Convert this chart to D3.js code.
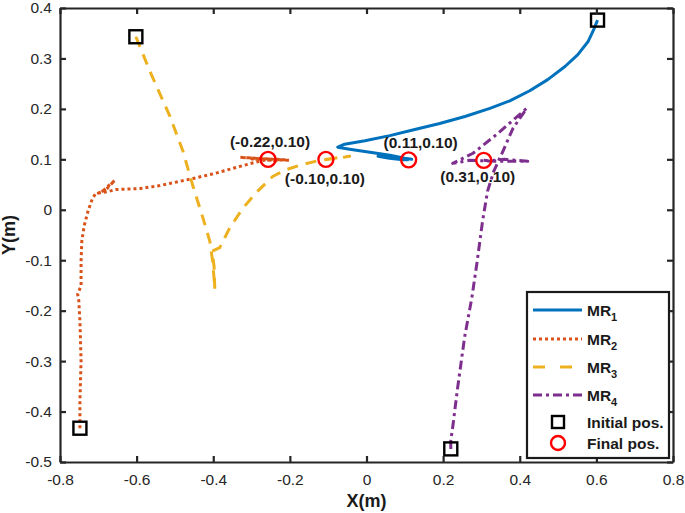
<!DOCTYPE html>
<html>
<head>
<meta charset="utf-8">
<script src="https://cdn.jsdelivr.net/npm/d3@7"></script>
<style>
  html, body { margin: 0; padding: 0; background: #fff; }
  svg { display: block; font-family: "Liberation Sans", Arial, sans-serif; }
</style>
</head>
<body>
<svg id="chart" width="685" height="513"></svg>
<script>
// ---------------- DATA ----------------
const xTicks = [-0.8, -0.6, -0.4, -0.2, 0, 0.2, 0.4, 0.6, 0.8];
const yTicks = [-0.5, -0.4, -0.3, -0.2, -0.1, 0, 0.1, 0.2, 0.3, 0.4];
const xTickLabels = ["-0.8", "-0.6", "-0.4", "-0.2", "0", "0.2", "0.4", "0.6", "0.8"];
const yTickLabels = ["-0.5", "-0.4", "-0.3", "-0.2", "-0.1", "0", "0.1", "0.2", "0.3", "0.4"];

const seriesNames = ["MR1", "MR2", "MR3", "MR4"];

const mr1X = [0.603, 0.593, 0.578, 0.551, 0.518, 0.473, 0.426, 0.374, 0.322, 0.257, 0.191, 0.126, 0.061, -0.004, -0.057, -0.075, -0.044, 0.009, 0.061, 0.100, 0.118, 0.074, 0.030, 0.060, 0.095, 0.110];
const mr1Y = [0.376, 0.357, 0.333, 0.307, 0.284, 0.258, 0.236, 0.216, 0.201, 0.185, 0.171, 0.159, 0.147, 0.137, 0.130, 0.124, 0.120, 0.114, 0.108, 0.102, 0.100, 0.104, 0.106, 0.102, 0.099, 0.099];

const mr2X = [-0.748, -0.748, -0.745, -0.748, -0.751, -0.754, -0.745, -0.745, -0.743, -0.737, -0.727, -0.716, -0.708, -0.690, -0.670, -0.657, -0.680, -0.700, -0.675, -0.655, -0.591, -0.539, -0.453, -0.396, -0.330, -0.291, -0.257, -0.200, -0.330, -0.210, -0.300, -0.230, -0.257];
const mr2Y = [-0.433, -0.378, -0.299, -0.220, -0.180, -0.167, -0.151, -0.102, -0.062, -0.032, -0.003, 0.021, 0.031, 0.036, 0.050, 0.058, 0.040, 0.033, 0.036, 0.040, 0.042, 0.048, 0.062, 0.072, 0.086, 0.094, 0.100, 0.098, 0.104, 0.099, 0.101, 0.097, 0.099];

const mr3X = [-0.602, -0.565, -0.513, -0.479, -0.453, -0.427, -0.409, -0.401, -0.396, -0.398, -0.403, -0.383, -0.357, -0.323, -0.284, -0.245, -0.208, -0.166, -0.122, -0.077, -0.044, -0.106];
const mr3Y = [0.343, 0.274, 0.185, 0.116, 0.047, -0.016, -0.062, -0.105, -0.157, -0.111, -0.082, -0.075, -0.036, 0.003, 0.037, 0.066, 0.080, 0.090, 0.098, 0.102, 0.106, 0.100];

const mr4X = [0.220, 0.220, 0.225, 0.238, 0.256, 0.275, 0.288, 0.303, 0.316, 0.332, 0.356, 0.382, 0.418, 0.339, 0.278, 0.225, 0.270, 0.348, 0.421, 0.361, 0.320, 0.306];
const mr4Y = [-0.474, -0.457, -0.431, -0.352, -0.253, -0.174, -0.107, -0.022, 0.037, 0.076, 0.116, 0.161, 0.201, 0.149, 0.112, 0.092, 0.098, 0.096, 0.096, 0.100, 0.097, 0.098];

const initX = [0.603, -0.748, -0.602, 0.220];
const initY = [0.376, -0.433, 0.343, -0.474];
const finalX = [0.110, -0.257, -0.106, 0.306];
const finalY = [0.099, 0.100, 0.100, 0.098];
const finalLabels = ["(0.11,0.10)", "(-0.22,0.10)", "(-0.10,0.10)", "(0.31,0.10)"];

const legendLabels = ["MR", "MR", "MR", "MR", "Initial pos.", "Final pos."];
const legendSubs = ["1", "2", "3", "4", "", ""];

// ---------------- STYLE / LAYOUT ----------------
const colors = ["#0072BD", "#D95319", "#EDB120", "#7E2F8E"];
const dashes = [null, "3,3", "11,8", "9,4,3,4"];
const legendDashes = [null, "3,3", "12,15", "9,4,3,4"];
const labelOffsets = [[12, -12], [2, -12], [-1, 25], [-6, 22]];

const svg = d3.select("#chart");
const L = 60, R = 673, T = 8, B = 462;

const x = d3.scaleLinear().domain([-0.8, 0.8]).range([L, R]);
const y = d3.scaleLinear().domain([-0.5, 0.4]).range([B, T]);

const axisColor = "#262626";

// Series paths
const seriesData = [
  d3.zip(mr1X, mr1Y),
  d3.zip(mr2X, mr2Y),
  d3.zip(mr3X, mr3Y),
  d3.zip(mr4X, mr4Y)
];
const line = d3.line().x(d => x(d[0])).y(d => y(d[1]));

const g = svg.append("g");
seriesData.forEach((pts, i) => {
  g.append("path")
    .attr("d", line(pts))
    .attr("fill", "none")
    .attr("stroke", colors[i])
    .attr("stroke-width", 3)
    .attr("stroke-linejoin", "round")
    .attr("stroke-dasharray", dashes[i]);
});

// Initial position squares
g.selectAll("rect.init").data(d3.zip(initX, initY)).enter().append("rect")
  .attr("class", "init")
  .attr("x", d => x(d[0]) - 6.5).attr("y", d => y(d[1]) - 6.5)
  .attr("width", 13).attr("height", 13)
  .attr("fill", "none").attr("stroke", "#000").attr("stroke-width", 2.4);

// Final position circles
g.selectAll("circle.fin").data(d3.zip(finalX, finalY)).enter().append("circle")
  .attr("class", "fin")
  .attr("cx", d => x(d[0])).attr("cy", d => y(d[1]))
  .attr("r", 7.5)
  .attr("fill", "none").attr("stroke", "#FF0000").attr("stroke-width", 2.4);

// Final labels
g.selectAll("text.fl").data(finalLabels).enter().append("text")
  .attr("class", "fl")
  .attr("x", (d, i) => x(finalX[i]) + labelOffsets[i][0])
  .attr("y", (d, i) => y(finalY[i]) + labelOffsets[i][1])
  .attr("text-anchor", "middle")
  .attr("font-size", 15.5).attr("font-weight", "bold").attr("fill", "#1a1a1a")
  .text(d => d);

// Axes (MATLAB box style, inward ticks)
const tickLen = 6;
const axG = svg.append("g");
function styleAxis(sel) {
  sel.select(".domain").attr("stroke", axisColor).attr("stroke-width", 2.2);
  sel.selectAll(".tick line").attr("stroke", axisColor).attr("stroke-width", 2.2);
  sel.selectAll(".tick text").attr("fill", axisColor).attr("font-size", 15.5)
    .attr("font-family", "'Liberation Sans', Arial, sans-serif");
}
const xAxisB = axG.append("g").attr("transform", `translate(0,${B})`)
  .call(d3.axisBottom(x).tickValues(xTicks).tickFormat((d, i) => xTickLabels[i])
    .tickSizeInner(-tickLen).tickSizeOuter(0).tickPadding(12));
styleAxis(xAxisB);
const xAxisT = axG.append("g").attr("transform", `translate(0,${T})`)
  .call(d3.axisTop(x).tickValues(xTicks).tickFormat("").tickSizeInner(-tickLen).tickSizeOuter(0));
styleAxis(xAxisT);
const yAxisL = axG.append("g").attr("transform", `translate(${L},0)`)
  .call(d3.axisLeft(y).tickValues(yTicks).tickFormat((d, i) => yTickLabels[i])
    .tickSizeInner(-tickLen).tickSizeOuter(0).tickPadding(8));
styleAxis(yAxisL);
const yAxisR = axG.append("g").attr("transform", `translate(${R},0)`)
  .call(d3.axisRight(y).tickValues(yTicks).tickFormat("").tickSizeInner(-tickLen).tickSizeOuter(0));
styleAxis(yAxisR);

// Axis titles
svg.append("text").attr("x", (L + R) / 2).attr("y", 507)
  .attr("text-anchor", "middle").attr("font-size", 18).attr("font-weight", "bold")
  .attr("fill", "#1a1a1a").text("X(m)");
svg.append("text").attr("transform", `translate(15,${(T + B) / 2}) rotate(-90)`)
  .attr("text-anchor", "middle").attr("font-size", 18).attr("font-weight", "bold")
  .attr("fill", "#1a1a1a").text("Y(m)");

// Legend
const lg = svg.append("g");
const lgX = 527, lgY = 292, lgW = 142, lgH = 166;
lg.append("rect").attr("x", lgX).attr("y", lgY).attr("width", lgW).attr("height", lgH)
  .attr("fill", "#fff").attr("stroke", "#1a1a1a").attr("stroke-width", 2.2);
const rowY = [310, 339, 367, 395, 422, 443];
legendLabels.forEach((lab, i) => {
  const cy = rowY[i];
  if (i < 4) {
    lg.append("line").attr("x1", 533).attr("x2", 582).attr("y1", cy).attr("y2", cy)
      .attr("stroke", colors[i]).attr("stroke-width", 3)
      .attr("stroke-dasharray", legendDashes[i]);
  } else if (i === 4) {
    lg.append("rect").attr("x", 558 - 6).attr("y", cy - 6).attr("width", 12).attr("height", 12)
      .attr("fill", "none").attr("stroke", "#000").attr("stroke-width", 2.4);
  } else {
    lg.append("circle").attr("cx", 558).attr("cy", cy).attr("r", 7)
      .attr("fill", "none").attr("stroke", "#FF0000").attr("stroke-width", 2.4);
  }
  const t = lg.append("text").attr("x", 587).attr("y", cy + 5.5)
    .attr("font-size", 15.5).attr("font-weight", "bold").attr("fill", "#1a1a1a");
  t.append("tspan").text(lab);
  if (legendSubs[i]) {
    t.append("tspan").attr("dy", 5).attr("font-size", 11).text(legendSubs[i]);
  }
});
</script>
</body>
</html>
